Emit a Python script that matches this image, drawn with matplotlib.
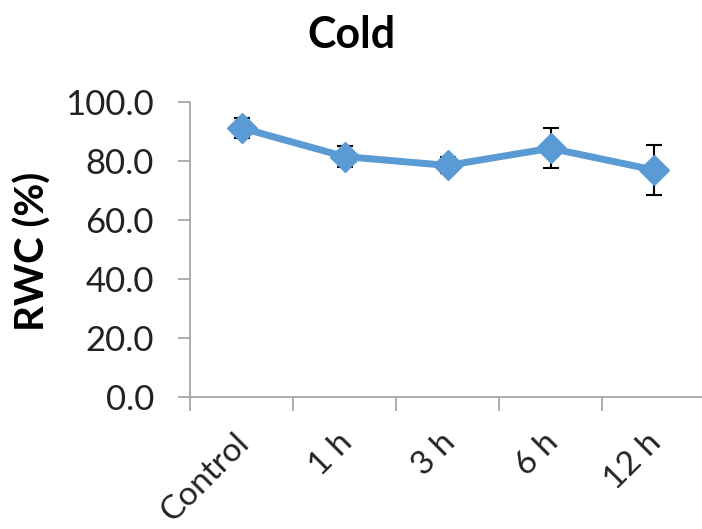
import numpy as np
import matplotlib.pyplot as plt
import matplotlib.transforms as mtransforms

categories = ["Control", "1 h", "3 h", "6 h", "12 h"]
rwc = [91.2, 81.5, 78.5, 84.3, 77.0]
rwc_err = [3.4, 3.6, 2.7, 6.8, 8.5]
yticks = [0, 20, 40, 60, 80, 100]

plt.rcParams['font.family'] = ['Lato', 'DejaVu Sans']

fig = plt.figure(figsize=(7.02, 5.29), dpi=100)
ax = fig.add_axes([190/702, 132/529, 515/702, 295/529])

x = np.arange(len(categories))
ax.errorbar(x, rwc, yerr=rwc_err, color='black', lw=0, elinewidth=1.5,
            capsize=6, capthick=1.5, zorder=2)
ax.plot(x, rwc, color='#5B9BD5', lw=5, marker='D', markersize=15,
        zorder=3)

ax.set_xlim(-0.5, len(categories) - 0.5)
ax.set_ylim(0, 100)
ax.set_yticks(yticks)
ax.set_yticklabels(["{:.1f}".format(v) for v in yticks])
ax.set_xticks(x)
ax.set_xticklabels(categories, rotation=45, ha='right', rotation_mode='anchor')
ax.set_xticks(np.arange(-0.5, len(categories)), minor=True)

for s in ['top', 'right']:
    ax.spines[s].set_visible(False)
for s in ['left', 'bottom']:
    ax.spines[s].set_color('#A6A6A6')
    ax.spines[s].set_linewidth(1.3)

ax.tick_params(axis='y', length=9, width=1.3, color='#A6A6A6', labelsize=25,
               pad=17, labelcolor='#222222')
ax.tick_params(axis='x', which='major', length=0, labelsize=24, pad=22,
               labelcolor='#222222')
ax.tick_params(axis='x', which='minor', length=10, width=1.3, color='#A6A6A6')

# nudge category labels a bit to the left (after tick_params, which resets transforms)
shift = mtransforms.ScaledTranslation(-8/100, 0, fig.dpi_scale_trans)
for lbl in ax.get_xticklabels():
    lbl.set_transform(lbl.get_transform() + shift)

fig.text(0.5, 1 - 35/529, "Cold", ha='center', va='center', fontsize=31,
         fontweight='bold')
fig.text(33/702, 1 - 251/529, "RWC (%)", ha='center', va='center',
         rotation=90, fontsize=29, fontweight='bold')

fig.savefig("out.png", dpi=100)
